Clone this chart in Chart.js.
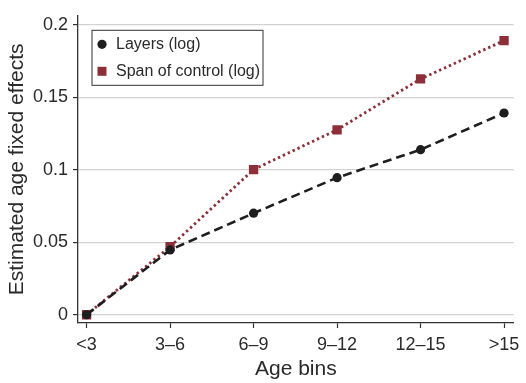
<!DOCTYPE html>
<html>
<head>
<meta charset="utf-8">
<script src="https://cdn.jsdelivr.net/npm/chart.js@4/dist/chart.umd.min.js"></script>
<style>
  body { margin: 0; background: #fff; }
  #wrap { width: 526px; height: 383px; }
</style>
</head>
<body>
<div id="wrap"><canvas id="ageChart" width="526" height="383"></canvas></div>
<script>
// data
var ageBins = ['<3', '3\u20136', '6\u20139', '9\u201312', '12\u201315', '>15'];
var layers = [0, 0.0447, 0.070, 0.0945, 0.1138, 0.1391];
var spanOfControl = [0, 0.0469, 0.1001, 0.1275, 0.1626, 0.1890];
var yTicks = [0, 0.05, 0.1, 0.15, 0.2];
var yTickLabels = ['0', '0.05', '0.1', '0.15', '0.2'];

var redCol = '#8c2f39';
var darkCol = '#1e1e1e';
var textCol = '#2a2a2a';

Chart.defaults.font.family = '"Liberation Sans", Arial, Helvetica, sans-serif';
Chart.defaults.color = textCol;

function toPoints(arr) {
    return arr.map(function (v, i) { return { x: i, y: v }; });
}

// legend box drawn inside the plot, top-left
var boxLegend = {
    id: 'boxLegend',
    afterDraw: function (chart) {
        var ctx = chart.ctx;
        var a = chart.chartArea;
        var x0 = a.left + 14, y0 = a.top + 14.5;
        ctx.save();
        ctx.strokeStyle = '#333';
        ctx.lineWidth = 1;
        ctx.fillStyle = '#fff';
        ctx.fillRect(x0, y0, 171, 55);
        ctx.strokeRect(x0, y0, 171, 55);
        ctx.font = '16px "Liberation Sans", Arial, sans-serif';
        ctx.textBaseline = 'middle';
        chart.data.datasets.forEach(function (ds, i) {
            var cy = y0 + 14 + i * 27;
            ctx.fillStyle = ds.pointBackgroundColor;
            if (ds.pointStyle === 'circle') {
                ctx.beginPath();
                ctx.arc(x0 + 10, cy, 4.6, 0, Math.PI * 2);
                ctx.fill();
            } else {
                ctx.fillRect(x0 + 5.5, cy - 4.5, 9, 9);
            }
            ctx.fillStyle = textCol;
            ctx.fillText(ds.label, x0 + 24, cy + 0.5);
        });
        ctx.restore();
    }
};

var ctx = document.getElementById('ageChart').getContext('2d');
var ageChart = new Chart(ctx, {
    type: 'line',
    data: {
        datasets: [{
            label: 'Layers (log)',
            data: toPoints(layers),
            borderColor: darkCol,
            borderWidth: 2.6,
            borderDash: [9, 5],
            pointStyle: 'circle',
            pointRadius: 4.6,
            pointBackgroundColor: darkCol,
            pointBorderColor: darkCol,
            pointBorderWidth: 0,
            tension: 0
        }, {
            label: 'Span of control (log)',
            data: toPoints(spanOfControl),
            borderColor: redCol,
            borderWidth: 2.8,
            borderDash: [2.4, 3],
            pointStyle: 'rect',
            pointRadius: 6.6,
            pointBackgroundColor: redCol,
            pointBorderColor: redCol,
            pointBorderWidth: 0,
            tension: 0
        }]
    },
    options: {
        responsive: false,
        animation: false,
        layout: { padding: { top: 4.5, right: 8, left: 0, bottom: 0 } },
        plugins: {
            legend: { display: false },
            tooltip: { enabled: false }
        },
        scales: {
            x: {
                type: 'linear',
                min: -0.103,
                max: 5.115,
                afterFit: function (scale) { scale.height = 60; },
                afterBuildTicks: function (scale) {
                    scale.ticks = ageBins.map(function (b, i) { return { value: i }; });
                },
                ticks: {
                    autoSkip: false,
                    maxRotation: 0,
                    padding: 6.5,
                    font: { size: 18 },
                    color: textCol,
                    callback: function (v) { return ageBins[v]; }
                },
                grid: {
                    drawOnChartArea: false,
                    drawTicks: true,
                    tickLength: 5,
                    tickColor: '#333',
                    tickWidth: 1.2
                },
                border: { display: true, color: '#333', width: 1.3 },
                title: {
                    display: true,
                    text: 'Age bins',
                    font: { size: 21 },
                    color: textCol,
                    padding: { top: 0, bottom: 1 }
                }
            },
            y: {
                min: -0.0057,
                max: 0.2061,
                afterFit: function (scale) { scale.width = 78; },
                afterBuildTicks: function (scale) {
                    scale.ticks = yTicks.map(function (v) { return { value: v }; });
                },
                ticks: {
                    padding: 5,
                    font: { size: 18 },
                    color: textCol,
                    callback: function (v) { return yTickLabels[yTicks.indexOf(v)]; }
                },
                grid: {
                    color: '#d2d2d2',
                    lineWidth: 1.2,
                    drawTicks: true,
                    tickLength: 5,
                    tickColor: '#333',
                    tickWidth: 1.2
                },
                border: { display: true, color: '#333', width: 1.3 },
                title: {
                    display: true,
                    text: 'Estimated age fixed effects',
                    font: { size: 21 },
                    color: textCol,
                    padding: { top: 4.5, bottom: 0 }
                }
            }
        }
    },
    plugins: [boxLegend]
});
</script>
</body>
</html>
